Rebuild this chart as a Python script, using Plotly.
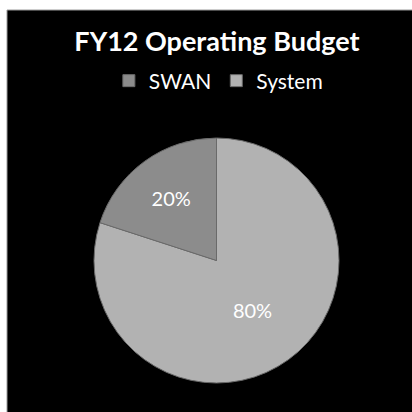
import plotly.graph_objects as go

W, H = 412, 412

labels = ["System", "SWAN"]
values = [80, 20]
colors = ["#b2b2b2", "#8c8c8c"]


def px_x(x):
    return x / W


def px_y(y):
    return 1 - y / H


fig = go.Figure()
fig.add_trace(go.Pie(labels=labels, values=values, sort=False,
                     direction="clockwise", rotation=0,
                     marker=dict(colors=colors, line=dict(color="#6a6a6a", width=1)),
                     textinfo="percent", textposition="inside",
                     insidetextorientation="horizontal",
                     textfont=dict(color="white", size=20, family="Lato"),
                     domain=dict(x=[px_x(94), px_x(339)], y=[px_y(383), px_y(138)]),
                     hoverinfo="label+percent"))

fig.update_layout(width=W, height=H,
                  margin={'t': 0, 'b': 0, 'l': 0, 'r': 0},
                  paper_bgcolor="white", plot_bgcolor="black",
                  font=dict(family="Lato", color="white"),
                  title=dict(text="<b>FY12 Operating Budget</b>", x=px_x(217), xanchor="center",
                             y=px_y(42), yanchor="middle", yref="paper",
                             font=dict(size=27, color="white", family="Lato")),
                  legend=dict(orientation="h", x=0.53, xanchor="center",
                              y=px_y(81), yanchor="middle",
                              traceorder="reversed",
                              font=dict(size=21, color="white"),
                              itemwidth=30,
                              bgcolor="rgba(0,0,0,0)"),
                  shapes=[dict(type="rect", xref="paper", yref="paper",
                               x0=px_x(7), x1=1.01, y0=-0.01, y1=px_y(10),
                               fillcolor="black", line=dict(color="#9a9a9a", width=1),
                               layer="below")])

# page body has a default margin, drop it so the figure sits at the corner
fig.write_html("out.html", config={"displayModeBar": False},
               post_script="document.body.style.margin='0';")
